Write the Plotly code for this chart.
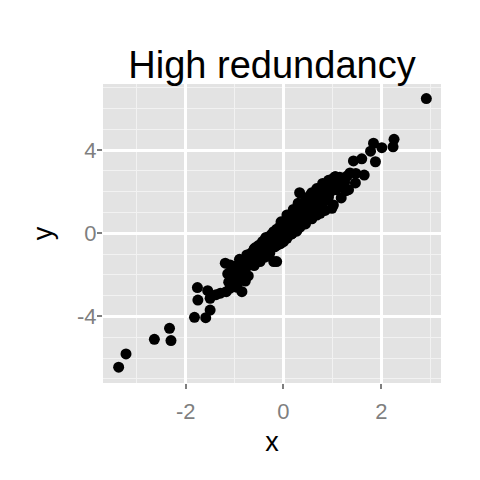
import plotly.graph_objects as go

# points (lower tail, core band, band edges, upper tail)
x_low = [-3.37, -3.22, -2.64, -2.33, -2.30, -1.82, -1.59, -1.50, -1.76, -1.75,
         -1.55, -1.50, -1.29, -1.17, -0.85, -0.20, -0.14, -1.38]
y_low = [-6.44, -5.80, -5.10, -4.57, -5.16, -4.04, -4.06, -3.69, -2.61, -3.21,
         -2.76, -3.13, -2.88, -2.81, -2.81, -1.36, -1.36, -2.95]

x_core = [-1.19, -1.09, -1.14, -1.06, -1.09, -1.02, -0.98, -0.95, -0.92, -0.88,
          -0.85, -0.80, -0.78, -0.75, -0.72, -0.70,
          -0.68, -0.66, -0.64, -0.62, -0.60, -0.58, -0.57, -0.55, -0.53, -0.52,
          -0.50, -0.49, -0.47, -0.46, -0.44, -0.43, -0.41, -0.40, -0.38, -0.37,
          -0.35, -0.34, -0.32, -0.31, -0.29, -0.28, -0.26, -0.25, -0.23, -0.22,
          -0.20, -0.19, -0.17, -0.16, -0.14, -0.13, -0.11, -0.10, -0.08, -0.07,
          -0.05, -0.04, -0.02, -0.01, 0.01, 0.02, 0.04, 0.05, 0.07, 0.08,
          0.10, 0.11, 0.13, 0.14, 0.16, 0.17, 0.19, 0.20, 0.22, 0.23,
          0.25, 0.26, 0.28, 0.29, 0.31, 0.32, 0.34, 0.35, 0.37, 0.38,
          0.40, 0.41, 0.43, 0.44, 0.46, 0.47, 0.49, 0.50, 0.52, 0.53,
          0.55, 0.57, 0.59, 0.60, 0.62, 0.64, 0.66, 0.68, 0.70, 0.72,
          0.74, 0.76, 0.78, 0.80, 0.82, 0.84, 0.86, 0.88, 0.90, 0.92,
          0.94, 0.96, 0.98, 1.00, 1.02, 1.04, 1.06, 1.08, 1.10, 1.12,
          1.15, 1.18, 1.21, 1.25, 1.30, 1.33,
          -0.36, -0.30, -0.24, -0.18, -0.12, -0.06, -0.03, 0.00, 0.03, 0.06,
          0.09, 0.12, 0.15, 0.18, 0.21, 0.24, 0.27, 0.30, 0.33, 0.36,
          0.39, 0.42, 0.45, 0.48, 0.51, 0.54, 0.58, 0.63, 0.67, 0.71]
y_core = [-1.44, -1.52, -1.95, -2.25, -2.64, -2.05, -1.80, -1.55, -2.10, -1.70,
          -1.95, -1.35, -2.30, -1.60, -2.05, -1.20,
          -1.40, -0.95, -1.30, -0.88, -1.25, -0.70, -1.10, -0.95, -1.35, -0.60,
          -0.85, -1.05, -0.55, -0.95, -0.75, -0.40, -0.90, -0.62, -0.30, -0.75,
          -0.50, -0.85, -0.20, -0.55, -0.35, -0.70, -0.10, -0.45, -0.25, -0.60,
          0.05, -0.30, -0.10, -0.45, 0.20, -0.16, 0.00, -0.35, 0.30, 0.05,
          -0.20, 0.40, 0.15, -0.10, 0.55, 0.25, 0.00, 0.45, 0.70, 0.20,
          0.50, 0.05, 0.80, 0.35, 0.60, 0.15, 0.95, 0.45, 0.70, 0.30,
          1.00, 0.60, 0.85, 0.40, 1.15, 0.70, 0.95, 0.55, 1.25, 0.85,
          1.05, 0.70, 1.40, 0.95, 1.20, 0.80, 1.50, 1.10, 1.30, 0.90,
          1.60, 1.20, 1.45, 1.05, 1.75, 1.35, 1.60, 1.20, 1.90, 1.50,
          1.75, 1.40, 2.05, 1.65, 1.90, 1.55, 2.20, 1.80, 2.05, 1.75,
          2.35, 2.00, 2.50, 2.20, 2.65, 2.30, 2.72, 2.10, 2.55, 2.40,
          2.70, 2.30, 2.60, 2.45, 2.75, 2.10,
          -0.20, -0.90, -0.05, -0.65, 0.10, -0.50, 0.20, 0.35, -0.25, 0.60,
          0.15, 0.35, -0.05, 0.55, 0.20, 0.75, 0.10, 0.85, 0.45, 1.00,
          0.50, 1.10, 0.60, 1.30, 0.75, 1.40, 0.95, 1.55, 1.00, 1.65]

x_edge = [-0.60, -0.48, -0.38, -0.28, -0.14, 0.00, 0.07, 0.18, 0.34, 0.45,
          0.58, 0.68, 0.85, 1.02, 1.18, 1.28,
          -0.90, -0.75, -0.60, -0.48, -0.34, -0.20, -0.05, 0.07, 0.20, 0.30,
          0.45, 0.58, 0.68, 0.80, 0.92,
          -1.00, -0.95, -1.12, -0.90]
y_edge = [-1.55, -1.36, -1.15, -0.95, -0.58, -0.40, -0.24, 0.00, 0.30, 0.45,
          0.70, 0.88, 1.10, 1.36, 1.70, 2.05,
          -1.25, -1.04, -0.75, -0.56, -0.25, 0.08, 0.55, 0.88, 1.15, 1.45,
          1.70, 1.95, 2.15, 2.40, 2.55,
          -2.40, -2.60, -2.35, -2.30]

x_high = [2.92, 2.26, 2.24, 2.01, 1.84, 1.78, 1.88, 1.60, 1.43, 1.36,
          1.48, 1.65, 1.47, 1.06, 0.33, 0.55, 0.99, 0.75]
y_high = [6.48, 4.52, 4.16, 4.12, 4.33, 3.95, 3.44, 3.58, 3.48, 2.90,
          2.88, 2.80, 2.42, 2.72, 1.95, 1.84, 1.20, 0.96]

x_ticks = [-2, 0, 2]
x_labels = ["-2", "0", "2"]
y_ticks = [-4, 0, 4]
y_labels = ["-4", "0", "4"]

x = x_low + x_core + x_edge + x_high
y = y_low + y_core + y_edge + y_high

fig = go.Figure()
fig.add_trace(go.Scatter(
    x=x, y=y, mode="markers",
    marker=dict(color="black", size=11, line=dict(width=0)),
    showlegend=False,
))

axis_common = dict(
    showline=False, zeroline=False, automargin=False,
    gridcolor="white", gridwidth=2.6,
    ticks="outside", ticklen=5, tickwidth=1.5, tickcolor="#7F7F7F",
    tickfont=dict(size=22, color="#7F7F7F"),
    minor=dict(dtick=1, showgrid=True, gridcolor="#F2F2F2", gridwidth=1.3, ticks=""),
)

# page body adds an 8px offset, so margins are shifted to keep the panel in place
fig.update_layout(
    width=480, height=480,
    margin=dict(l=95, r=47, t=76, b=105),
    paper_bgcolor="white",
    plot_bgcolor="#E3E3E3",
    font=dict(family="Liberation Sans, Arial, sans-serif", color="black"),
    title=dict(text="High redundancy", x=264 / 480, xanchor="center",
               xref="container", y=1 - 70 / 480, yanchor="bottom",
               font=dict(size=38, color="black")),
    xaxis=dict(range=[-3.69, 3.22], tickvals=x_ticks, ticktext=x_labels,
               ticklabelstandoff=4,
               title=dict(text="x", font=dict(size=27), standoff=8),
               **axis_common),
    yaxis=dict(range=[-7.2, 7.18], tickvals=y_ticks, ticktext=y_labels,
               ticklabelstandoff=-4,
               title=dict(text="y", font=dict(size=27), standoff=16),
               **axis_common),
)

fig.write_html("out.html")
